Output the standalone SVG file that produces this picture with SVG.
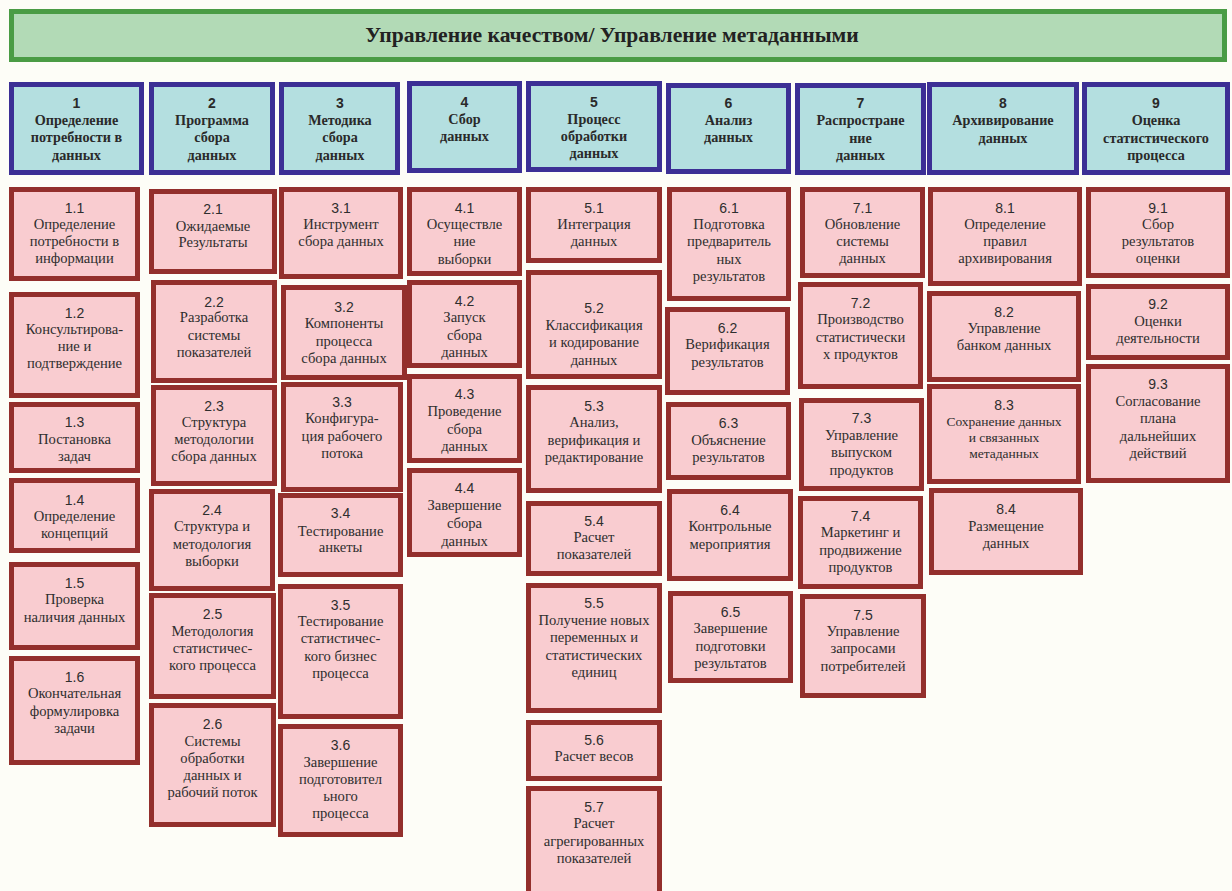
<svg xmlns="http://www.w3.org/2000/svg" width="1232" height="891" viewBox="0 0 1232 891">
<style>
.bg{fill:#fdfdf7}
.title rect{fill:#b2dab6;stroke:#4a9c45;stroke-width:5}
.title text{font-family:"Liberation Serif","Times New Roman",serif;font-weight:bold;font-size:21.6px;fill:#222;text-anchor:middle}
.hd rect{fill:#b4dfe0;stroke:#3c2f95;stroke-width:5}
.hd text{text-anchor:middle;fill:#2a2a2a}
.hd .n{font-family:"Liberation Sans",Arial,sans-serif;font-weight:bold;font-size:14px}
.hd .l{font-family:"Liberation Serif","Times New Roman",serif;font-weight:bold;font-size:14.2px}
.bx rect{fill:#f9ccd0;stroke:#932f2c;stroke-width:5}
.bx text{text-anchor:middle;fill:#2e2e2e}
.bx .n{font-family:"Liberation Sans",Arial,sans-serif;font-size:14px}
.bx .l{font-family:"Liberation Serif","Times New Roman",serif;font-size:14.6px}
.bx .s{font-size:13.5px}
</style>
<rect class="bg" x="0" y="0" width="1232" height="891"/>

<g id="title" class="title">
<rect x="11.5" y="11.5" width="1213" height="48"/>
<text x="612" y="42">Управление качеством/ Управление метаданными</text>
</g>

<g id="h1" class="hd"><rect x="11.5" y="84.5" width="130" height="88"/>
<text class="n" x="76.5" y="108">1</text><text class="l" x="76.5" y="125">Определение</text><text class="l" x="76.5" y="142">потребности в</text><text class="l" x="76.5" y="160">данных</text></g>
<g id="h2" class="hd"><rect x="151.5" y="84.5" width="121" height="88"/>
<text class="n" x="212" y="108">2</text><text class="l" x="212" y="125">Программа</text><text class="l" x="212" y="142">сбора</text><text class="l" x="212" y="160">данных</text></g>
<g id="h3" class="hd"><rect x="281.5" y="84.5" width="116" height="88"/>
<text class="n" x="340" y="108">3</text><text class="l" x="340" y="125">Методика</text><text class="l" x="340" y="142">сбора</text><text class="l" x="340" y="160">данных</text></g>
<g id="h4" class="hd"><rect x="409.5" y="83.5" width="110" height="87"/>
<text class="n" x="464.5" y="107">4</text><text class="l" x="464.5" y="124">Сбор</text><text class="l" x="464.5" y="141">данных</text></g>
<g id="h5" class="hd"><rect x="528.5" y="83.5" width="131" height="86"/>
<text class="n" x="594" y="107">5</text><text class="l" x="594" y="124">Процесс</text><text class="l" x="594" y="141">обработки</text><text class="l" x="594" y="158">данных</text></g>
<g id="h6" class="hd"><rect x="668.5" y="85.5" width="120" height="86"/>
<text class="n" x="728.5" y="108">6</text><text class="l" x="728.5" y="125">Анализ</text><text class="l" x="728.5" y="142">данных</text></g>
<g id="h7" class="hd"><rect x="797.5" y="85.5" width="126" height="87"/>
<text class="n" x="860.5" y="108">7</text><text class="l" x="860.5" y="125">Распростране</text><text class="l" x="860.5" y="143">ние</text><text class="l" x="860.5" y="160">данных</text></g>
<g id="h8" class="hd"><rect x="929.5" y="84.5" width="147" height="88"/>
<text class="n" x="1003" y="108">8</text><text class="l" x="1003" y="125">Архивирование</text><text class="l" x="1003" y="143">данных</text></g>
<g id="h9" class="hd"><rect x="1084.5" y="84.5" width="143" height="88"/>
<text class="n" x="1156" y="108">9</text><text class="l" x="1156" y="125">Оценка</text><text class="l" x="1156" y="143">статистического</text><text class="l" x="1156" y="160">процесса</text></g>

<g id="b1_1" class="bx"><rect x="11.5" y="189.5" width="126" height="89"/>
<text class="n" x="74.5" y="213">1.1</text><text class="l" x="74.5" y="229">Определение</text><text class="l" x="74.5" y="246">потребности в</text><text class="l" x="74.5" y="263">информации</text></g>
<g id="b1_2" class="bx"><rect x="11.5" y="294.5" width="126" height="101"/>
<text class="n" x="74.5" y="318">1.2</text><text class="l" x="74.5" y="334">Консультирова-</text><text class="l" x="74.5" y="351">ние и</text><text class="l" x="74.5" y="368">подтверждение</text></g>
<g id="b1_3" class="bx"><rect x="11.5" y="404.5" width="126" height="66"/>
<text class="n" x="74.5" y="427">1.3</text><text class="l" x="74.5" y="444">Постановка</text><text class="l" x="74.5" y="461">задач</text></g>
<g id="b1_4" class="bx"><rect x="11.5" y="480.5" width="126" height="70"/>
<text class="n" x="74.5" y="505">1.4</text><text class="l" x="74.5" y="521">Определение</text><text class="l" x="74.5" y="538">концепций</text></g>
<g id="b1_5" class="bx"><rect x="11.5" y="564.5" width="126" height="83"/>
<text class="n" x="74.5" y="588">1.5</text><text class="l" x="74.5" y="604">Проверка</text><text class="l" x="74.5" y="622">наличия данных</text></g>
<g id="b1_6" class="bx"><rect x="11.5" y="658.5" width="126" height="104"/>
<text class="n" x="74.5" y="682">1.6</text><text class="l" x="74.5" y="698">Окончательная</text><text class="l" x="74.5" y="716">формулировка</text><text class="l" x="74.5" y="733">задачи</text></g>

<g id="b2_1" class="bx"><rect x="151.5" y="191.5" width="123" height="80"/>
<text class="n" x="213" y="214">2.1</text><text class="l" x="213" y="231">Ожидаемые</text><text class="l" x="213" y="247">Результаты</text></g>
<g id="b2_2" class="bx"><rect x="153.5" y="282.5" width="121" height="98"/>
<text class="n" x="214" y="307">2.2</text><text class="l" x="214" y="322">Разработка</text><text class="l" x="214" y="340">системы</text><text class="l" x="214" y="357">показателей</text></g>
<g id="b2_3" class="bx"><rect x="153.5" y="387.5" width="121" height="96"/>
<text class="n" x="214" y="411">2.3</text><text class="l" x="214" y="427">Структура</text><text class="l" x="214" y="444">методологии</text><text class="l" x="214" y="461">сбора данных</text></g>
<g id="b2_4" class="bx"><rect x="151.5" y="491.5" width="121" height="97"/>
<text class="n" x="212" y="515">2.4</text><text class="l" x="212" y="531">Структура и</text><text class="l" x="212" y="549">методология</text><text class="l" x="212" y="566">выборки</text></g>
<g id="b2_5" class="bx"><rect x="151.5" y="595.5" width="122" height="101"/>
<text class="n" x="212.5" y="619">2.5</text><text class="l" x="212.5" y="636">Методология</text><text class="l" x="212.5" y="653">статистичес-</text><text class="l" x="212.5" y="670">кого процесса</text></g>
<g id="b2_6" class="bx"><rect x="151.5" y="705.5" width="122" height="119"/>
<text class="n" x="212.5" y="729">2.6</text><text class="l" x="212.5" y="746">Системы</text><text class="l" x="212.5" y="763">обработки</text><text class="l" x="212.5" y="780">данных и</text><text class="l" x="212.5" y="797">рабочий поток</text></g>

<g id="b3_1" class="bx"><rect x="281.5" y="189.5" width="119" height="87"/>
<text class="n" x="341" y="213">3.1</text><text class="l" x="341" y="229">Инструмент</text><text class="l" x="341" y="246">сбора данных</text></g>
<g id="b3_2" class="bx"><rect x="283.5" y="287.5" width="121" height="90"/>
<text class="n" x="344" y="312">3.2</text><text class="l" x="344" y="328">Компоненты</text><text class="l" x="344" y="346">процесса</text><text class="l" x="344" y="363">сбора данных</text></g>
<g id="b3_3" class="bx"><rect x="283.5" y="384.5" width="117" height="105"/>
<text class="n" x="342" y="407">3.3</text><text class="l" x="342" y="423">Конфигура-</text><text class="l" x="342" y="441">ция рабочего</text><text class="l" x="342" y="458">потока</text></g>
<g id="b3_4" class="bx"><rect x="280.5" y="495.5" width="120" height="79"/>
<text class="n" x="340.5" y="518">3.4</text><text class="l" x="340.5" y="536">Тестирование</text><text class="l" x="340.5" y="552">анкеты</text></g>
<g id="b3_5" class="bx"><rect x="280.5" y="586.5" width="120" height="130"/>
<text class="n" x="340.5" y="610">3.5</text><text class="l" x="340.5" y="626">Тестирование</text><text class="l" x="340.5" y="643">статистичес-</text><text class="l" x="340.5" y="661">кого бизнес</text><text class="l" x="340.5" y="678">процесса</text></g>
<g id="b3_6" class="bx"><rect x="280.5" y="726.5" width="120" height="108"/>
<text class="n" x="340.5" y="750">3.6</text><text class="l" x="340.5" y="767">Завершение</text><text class="l" x="340.5" y="784">подготовител</text><text class="l" x="340.5" y="801">ьного</text><text class="l" x="340.5" y="818">процесса</text></g>

<g id="b4_1" class="bx"><rect x="409.5" y="189.5" width="110" height="84"/>
<text class="n" x="464.5" y="213">4.1</text><text class="l" x="464.5" y="229">Осуществле</text><text class="l" x="464.5" y="246">ние</text><text class="l" x="464.5" y="264">выборки</text></g>
<g id="b4_2" class="bx"><rect x="409.5" y="282.5" width="110" height="83"/>
<text class="n" x="464.5" y="306">4.2</text><text class="l" x="464.5" y="322">Запуск</text><text class="l" x="464.5" y="340">сбора</text><text class="l" x="464.5" y="357">данных</text></g>
<g id="b4_3" class="bx"><rect x="409.5" y="376.5" width="110" height="84"/>
<text class="n" x="464.5" y="399">4.3</text><text class="l" x="464.5" y="416">Проведение</text><text class="l" x="464.5" y="434">сбора</text><text class="l" x="464.5" y="451">данных</text></g>
<g id="b4_4" class="bx"><rect x="409.5" y="470.5" width="110" height="84"/>
<text class="n" x="464.5" y="493">4.4</text><text class="l" x="464.5" y="510">Завершение</text><text class="l" x="464.5" y="528">сбора</text><text class="l" x="464.5" y="546">данных</text></g>

<g id="b5_1" class="bx"><rect x="528.5" y="189.5" width="131" height="71"/>
<text class="n" x="594" y="213">5.1</text><text class="l" x="594" y="229">Интеграция</text><text class="l" x="594" y="246">данных</text></g>
<g id="b5_2" class="bx"><rect x="528.5" y="272.5" width="131" height="104"/>
<text class="n" x="594" y="313">5.2</text><text class="l" x="594" y="330">Классификация</text><text class="l" x="594" y="347">и кодирование</text><text class="l" x="594" y="365">данных</text></g>
<g id="b5_3" class="bx"><rect x="528.5" y="387.5" width="131" height="103"/>
<text class="n" x="594" y="411">5.3</text><text class="l" x="594" y="427">Анализ,</text><text class="l" x="594" y="445">верификация и</text><text class="l" x="594" y="462">редактирование</text></g>
<g id="b5_4" class="bx"><rect x="528.5" y="503.5" width="131" height="70"/>
<text class="n" x="594" y="526">5.4</text><text class="l" x="594" y="542">Расчет</text><text class="l" x="594" y="559">показателей</text></g>
<g id="b5_5" class="bx"><rect x="528.5" y="585.5" width="131" height="125"/>
<text class="n" x="594" y="608">5.5</text><text class="l" x="594" y="625">Получение новых</text><text class="l" x="594" y="642">переменных и</text><text class="l" x="594" y="660">статистических</text><text class="l" x="594" y="677">единиц</text></g>
<g id="b5_6" class="bx"><rect x="528.5" y="722.5" width="131" height="56"/>
<text class="n" x="594" y="745">5.6</text><text class="l" x="594" y="761">Расчет весов</text></g>
<g id="b5_7" class="bx"><rect x="528.5" y="788.5" width="131" height="110"/>
<text class="n" x="594" y="812">5.7</text><text class="l" x="594" y="828">Расчет</text><text class="l" x="594" y="846">агрегированных</text><text class="l" x="594" y="863">показателей</text></g>

<g id="b6_1" class="bx"><rect x="669.5" y="189.5" width="119" height="109"/>
<text class="n" x="729" y="213">6.1</text><text class="l" x="729" y="229">Подготовка</text><text class="l" x="729" y="246">предваритель</text><text class="l" x="729" y="264">ных</text><text class="l" x="729" y="281">результатов</text></g>
<g id="b6_2" class="bx"><rect x="667.5" y="309.5" width="120" height="83"/>
<text class="n" x="727.5" y="333">6.2</text><text class="l" x="727.5" y="349">Верификация</text><text class="l" x="727.5" y="367">результатов</text></g>
<g id="b6_3" class="bx"><rect x="668.5" y="404.5" width="120" height="73"/>
<text class="n" x="728.5" y="428">6.3</text><text class="l" x="728.5" y="445">Объяснение</text><text class="l" x="728.5" y="462">результатов</text></g>
<g id="b6_4" class="bx"><rect x="669.5" y="491.5" width="121" height="87"/>
<text class="n" x="730" y="515">6.4</text><text class="l" x="730" y="531">Контрольные</text><text class="l" x="730" y="549">мероприятия</text></g>
<g id="b6_5" class="bx"><rect x="670.5" y="593.5" width="120" height="87"/>
<text class="n" x="730.5" y="617">6.5</text><text class="l" x="730.5" y="633">Завершение</text><text class="l" x="730.5" y="651">подготовки</text><text class="l" x="730.5" y="668">результатов</text></g>

<g id="b7_1" class="bx"><rect x="802.5" y="189.5" width="120" height="86"/>
<text class="n" x="862.5" y="213">7.1</text><text class="l" x="862.5" y="229">Обновление</text><text class="l" x="862.5" y="246">системы</text><text class="l" x="862.5" y="263">данных</text></g>
<g id="b7_2" class="bx"><rect x="800.5" y="284.5" width="120" height="102"/>
<text class="n" x="860.5" y="308">7.2</text><text class="l" x="860.5" y="324">Производство</text><text class="l" x="860.5" y="342">статистически</text><text class="l" x="860.5" y="359">х продуктов</text></g>
<g id="b7_3" class="bx"><rect x="801.5" y="400.5" width="120" height="88"/>
<text class="n" x="861.5" y="423">7.3</text><text class="l" x="861.5" y="440">Управление</text><text class="l" x="861.5" y="457">выпуском</text><text class="l" x="861.5" y="475">продуктов</text></g>
<g id="b7_4" class="bx"><rect x="800.5" y="498.5" width="120" height="88"/>
<text class="n" x="860.5" y="521">7.4</text><text class="l" x="860.5" y="537">Маркетинг и</text><text class="l" x="860.5" y="555">продвижение</text><text class="l" x="860.5" y="572">продуктов</text></g>
<g id="b7_5" class="bx"><rect x="802.5" y="596.5" width="121" height="99"/>
<text class="n" x="863" y="620">7.5</text><text class="l" x="863" y="636">Управление</text><text class="l" x="863" y="653">запросами</text><text class="l" x="863" y="671">потребителей</text></g>

<g id="b8_1" class="bx"><rect x="930.5" y="189.5" width="149" height="94"/>
<text class="n" x="1005" y="213">8.1</text><text class="l" x="1005" y="229">Определение</text><text class="l" x="1005" y="246">правил</text><text class="l" x="1005" y="263">архивирования</text></g>
<g id="b8_2" class="bx"><rect x="929.5" y="293.5" width="149" height="86"/>
<text class="n" x="1004" y="317">8.2</text><text class="l" x="1004" y="333">Управление</text><text class="l" x="1004" y="350">банком данных</text></g>
<g id="b8_3" class="bx"><rect x="929.5" y="386.5" width="149" height="95"/>
<text class="n" x="1004" y="410">8.3</text><text class="l s" x="1004" y="426">Сохранение данных</text><text class="l s" x="1004" y="442">и связанных</text><text class="l s" x="1004" y="458">метаданных</text></g>
<g id="b8_4" class="bx"><rect x="931.5" y="490.5" width="149" height="82"/>
<text class="n" x="1006" y="514">8.4</text><text class="l" x="1006" y="531">Размещение</text><text class="l" x="1006" y="548">данных</text></g>

<g id="b9_1" class="bx"><rect x="1088.5" y="189.5" width="139" height="86"/>
<text class="n" x="1158" y="213">9.1</text><text class="l" x="1158" y="229">Сбор</text><text class="l" x="1158" y="246">результатов</text><text class="l" x="1158" y="263">оценки</text></g>
<g id="b9_2" class="bx"><rect x="1088.5" y="286.5" width="139" height="71"/>
<text class="n" x="1158" y="309">9.2</text><text class="l" x="1158" y="326">Оценки</text><text class="l" x="1158" y="343">деятельности</text></g>
<g id="b9_3" class="bx"><rect x="1088.5" y="366.5" width="139" height="114"/>
<text class="n" x="1158" y="389">9.3</text><text class="l" x="1158" y="406">Согласование</text><text class="l" x="1158" y="423">плана</text><text class="l" x="1158" y="441">дальнейших</text><text class="l" x="1158" y="458">действий</text></g>
</svg>
